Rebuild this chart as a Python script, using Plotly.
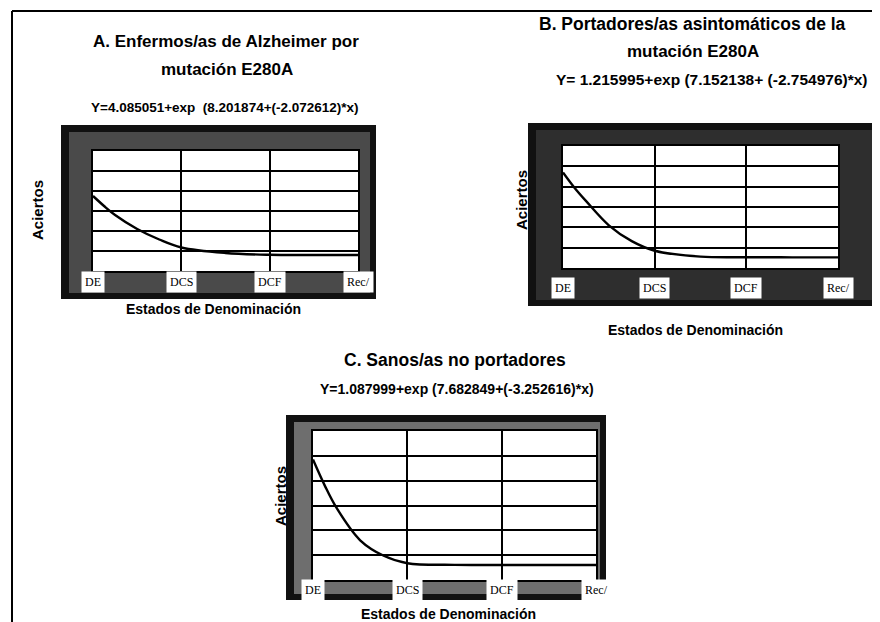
import plotly.graph_objects as go

W, H = 880, 622

# ---------------- data ----------------
x_points = [1, 1.125, 1.25, 1.5, 1.75, 2, 2.5, 3, 3.5, 4]
aciertos_A = [75, 65, 56, 42, 31.5, 23.5, 18, 16.2, 16, 16]
aciertos_B = [94, 79, 66, 42, 26.4, 17, 11.2, 10.6, 10.5, 10.5]
aciertos_C = [97, 76, 58, 32, 19.5, 13.5, 12.2, 12.1, 12.1, 12.1]

estado_pos = [1, 2, 3, 4]
estado_labels = ["DE", "DCS", "DCF", "Rec/"]

titles = {
    "A": ["A. Enfermos/as de Alzheimer por", "mutación E280A"],
    "B": ["B. Portadores/as asintomáticos de la", "mutación E280A"],
    "C": ["C. Sanos/as no portadores"],
}
equations = {
    "A": "Y=4.085051+exp  (8.201874+(-2.072612)*x)",
    "B": "Y= 1.215995+exp (7.152138+ (-2.754976)*x)",
    "C": "Y=1.087999+exp (7.682849+(-3.252616)*x)",
}
y_title = "Aciertos"
x_title = "Estados de Denominación"

# ---------------- layout helpers ----------------
def px(x):
    return x / W

def py(y):
    return 1 - y / H

SANS = "Liberation Sans, Arial, sans-serif"
SERIF = "Liberation Serif, Times New Roman, serif"

panels = {
    "A": dict(plot=(85, 143, 350, 263), frame=(53, 117, 368, 291), band="#4a4a4a",
              label_y=274),
    "B": dict(plot=(555, 138, 830, 260), frame=(520, 115, 870, 298), band="#2e2e2e",
              label_y=280),
    "C": dict(plot=(305, 423, 588, 572), frame=(278, 407, 598, 592), band="#6e6e6e",
              label_y=582),
}
series = {"A": aciertos_A, "B": aciertos_B, "C": aciertos_C}

fig = go.Figure()
shapes = []
annotations = []

for i, key in enumerate(["A", "B", "C"]):
    p = panels[key]
    sfx = "" if i == 0 else str(i + 1)
    xa, ya = "x" + sfx, "y" + sfx
    l, t, r, b = p["plot"]
    fl, ft, fr, fb = p["frame"]

    fig.add_trace(go.Scatter(
        x=x_points, y=series[key], mode="lines",
        line=dict(color="#000000", width=2.4, shape="spline", smoothing=1.0),
        xaxis=xa, yaxis=ya, showlegend=False, hoverinfo="skip",
    ))

    fig.layout["xaxis" + sfx] = dict(
        domain=[px(l), px(r)], anchor=ya, range=[1, 4],
        tickvals=estado_pos, showticklabels=False, ticks="",
        showgrid=True, gridcolor="#000000", gridwidth=1.5,
        showline=True, linecolor="#000000", linewidth=2, mirror=True,
        zeroline=False, fixedrange=True,
    )
    fig.layout["yaxis" + sfx] = dict(
        domain=[py(b), py(t)], anchor=xa, range=[0, 120], dtick=20,
        showticklabels=False, ticks="",
        showgrid=True, gridcolor="#000000", gridwidth=1.5,
        showline=True, linecolor="#000000", linewidth=2, mirror=True,
        zeroline=False, fixedrange=True,
    )

    # scanned frame: dark outer border, grey inner band, white plot area
    shapes.append(dict(type="rect", xref="paper", yref="paper", layer="below",
                       x0=px(fl), x1=px(fr), y0=py(fb), y1=py(ft),
                       fillcolor="#111111", line=dict(width=0)))
    shapes.append(dict(type="rect", xref="paper", yref="paper", layer="below",
                       x0=px(fl + 8), x1=px(fr - 6), y0=py(fb - 6), y1=py(ft + 7),
                       fillcolor=p["band"], line=dict(width=0)))
    shapes.append(dict(type="rect", xref="paper", yref="paper", layer="below",
                       x0=px(l), x1=px(r), y0=py(b), y1=py(t),
                       fillcolor="#ffffff", line=dict(width=0)))

    # category labels on white patches (as in the scanned original)
    for v, lab in zip(estado_pos, estado_labels):
        annotations.append(dict(
            text=lab, xref=xa, yref="paper", x=v, y=py(p["label_y"]),
            xanchor="center", yanchor="middle", showarrow=False,
            bgcolor="#ffffff", borderpad=3,
            font=dict(family=SERIF, size=12, color="#000000"),
        ))

# ---------------- texts ----------------
def add_text(text, x, y, size, angle=0):
    annotations.append(dict(
        text=text, xref="paper", yref="paper", x=px(x), y=py(y),
        xanchor="center", yanchor="middle", showarrow=False, textangle=angle,
        font=dict(family=SANS, size=size, color="#000000", weight="bold"),
    ))

# A
add_text(titles["A"][0], 218, 33, 17)
add_text(titles["A"][1], 219, 61, 17)
add_text(equations["A"], 217, 100, 13.5)
add_text(y_title, 30, 202, 15, -90)
add_text(x_title, 205, 301, 14)
# B
add_text(titles["B"][0], 684, 16, 17.5)
add_text(titles["B"][1], 685, 44, 17)
add_text(equations["B"], 704, 72, 15.5)
add_text(y_title, 513, 192, 15, -90)
add_text(x_title, 687, 322, 14)
# C
add_text(titles["C"][0], 447, 352, 17.5)
add_text(equations["C"], 449, 381, 14)
add_text(y_title, 272, 488, 15, -90)
add_text(x_title, 440, 606, 14)

# page border lines of the scan
shapes.append(dict(type="line", xref="paper", yref="paper",
                   x0=px(4), x1=px(4), y0=py(622), y1=py(3),
                   line=dict(color="#000000", width=2)))
shapes.append(dict(type="line", xref="paper", yref="paper",
                   x0=px(4), x1=px(880), y0=py(3), y1=py(3),
                   line=dict(color="#000000", width=2)))

fig.update_layout(
    width=W, height=H, autosize=False,
    margin=dict(l=0, r=0, t=0, b=0),
    paper_bgcolor="#ffffff", plot_bgcolor="#ffffff",
    shapes=shapes, annotations=annotations, showlegend=False,
)

fig.write_html("out.html", config={"displayModeBar": False})
